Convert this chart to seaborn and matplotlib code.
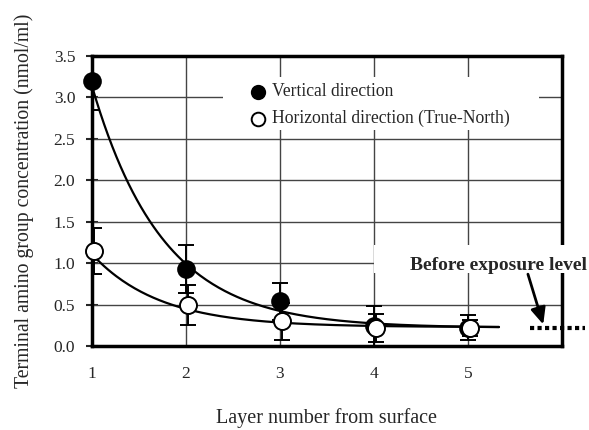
import numpy as np
import pandas as pd
import matplotlib
matplotlib.use("Agg")
import matplotlib.pyplot as plt
from matplotlib.patches import Rectangle
import seaborn as sns

layers = [1, 2, 3, 4, 5]
vertical = [3.20, 0.93, 0.54, 0.24, 0.22]
vertical_err = [0.35, 0.29, 0.22, 0.24, 0.15]
horizontal = [1.15, 0.50, 0.30, 0.22, 0.22]
horizontal_err = [0.28, 0.24, 0.22, 0.17, 0.10]

# exponential fit curves y = a*exp(-b*(x-1)) + c, constants
vertical_fit = (2.92, 1.33, 0.22)
horizontal_fit = (0.88, 1.39, 0.23)
fit_end = 5.33

before_level = 0.22
y_ticks = [0.0, 0.5, 1.0, 1.5, 2.0, 2.5, 3.0, 3.5]
x_ticks = [1, 2, 3, 4, 5]

sns.set_style("white")
plt.rcParams["font.family"] = ["Liberation Serif", "DejaVu Serif"]

fig = plt.figure(figsize=(5.89, 4.30), dpi=100)
ax = fig.add_axes([0.156, 0.195, 0.798, 0.675])

# grid
for yv in y_ticks[1:-1]:
    ax.axhline(yv, color="#444444", lw=1.0, zorder=1)
for xv in x_ticks[1:]:
    ax.axvline(xv, color="#444444", lw=1.0, zorder=1)

# white boxes behind legend and annotation text
ax.add_patch(Rectangle((2.40, 2.61), 3.36, 0.64, facecolor="white", edgecolor="none", zorder=1.5))
ax.add_patch(Rectangle((4.0, 0.88), 2.3, 0.34, facecolor="white", edgecolor="none",
                       zorder=3, clip_on=False))

# fitted curves
def fit_frame(params):
    a, b, c = params
    xs = np.linspace(1, fit_end, 200)
    return pd.DataFrame({"x": xs, "y": a * np.exp(-b * (xs - 1)) + c})

sns.lineplot(data=fit_frame(vertical_fit), x="x", y="y", color="black", lw=1.6, ax=ax, zorder=4)
sns.lineplot(data=fit_frame(horizontal_fit), x="x", y="y", color="black", lw=1.6, ax=ax, zorder=4)

shift = 0.02
# error bars
ax.errorbar(layers, vertical, yerr=vertical_err, fmt="none", ecolor="black",
            elinewidth=1.4, capsize=6, capthick=1.4, zorder=5)
ax.errorbar([x + shift for x in layers], horizontal, yerr=horizontal_err, fmt="none",
            ecolor="black", elinewidth=1.4, capsize=6, capthick=1.4, zorder=5)

df = pd.DataFrame({
    "layer": layers * 2,
    "value": vertical + horizontal,
    "series": ["Vertical direction"] * 5 + ["Horizontal direction (True-North)"] * 5,
})
sns.scatterplot(data=df[df.series == "Vertical direction"], x="layer", y="value",
                marker="o", s=150, color="black", edgecolor="black", linewidth=1.2,
                ax=ax, zorder=6, clip_on=False, label="Vertical direction")
h = df[df.series != "Vertical direction"].copy()
h["layer"] = h["layer"] + shift
sns.scatterplot(data=h, x="layer", y="value", marker="o", s=150, facecolor="white",
                edgecolor="black", linewidth=1.4, ax=ax, zorder=6, clip_on=False,
                label="Horizontal direction (True-North)")

leg = ax.legend(loc="upper left", bbox_to_anchor=(0.30, 0.93), frameon=False,
                fontsize=12.7, handletextpad=-0.2, labelspacing=0.55, borderaxespad=0,
                markerscale=0.8)

# before exposure level
ax.plot([5.66, 6.25], [before_level, before_level], color="black", lw=3,
        linestyle=(0, (1, 0.8)), clip_on=False, zorder=6)
ax.text(6.27, 0.97, "Before exposure level", fontsize=14, fontweight="bold",
        ha="right", va="center", zorder=7, clip_on=False)
ax.annotate("", xy=(5.81, 0.23), xytext=(5.63, 0.90),
            arrowprops=dict(arrowstyle="-|>,head_length=1.0,head_width=0.45",
                            color="black", lw=2), annotation_clip=False, zorder=7)

ax.set_xlim(1, 6)
ax.set_ylim(0, 3.5)
ax.set_xticks(x_ticks)
ax.set_yticks(y_ticks)
ax.set_yticklabels([f"{v:.1f}" for v in y_ticks])
ax.tick_params(axis="x", length=0, pad=14, labelsize=12.5)
ax.tick_params(axis="y", direction="inout", length=8, width=1.5, pad=8, labelsize=12.5, left=True)
for sp in ax.spines.values():
    sp.set_linewidth(2.5)
    sp.set_color("black")
    sp.set_zorder(2.5)

ax.set_xlabel("Layer number from surface", fontsize=14.5, labelpad=19)
ax.set_ylabel("Terminal amino group concentration (nmol/ml)", fontsize=14.2, labelpad=14)

fig.savefig("out.png", dpi=100)
